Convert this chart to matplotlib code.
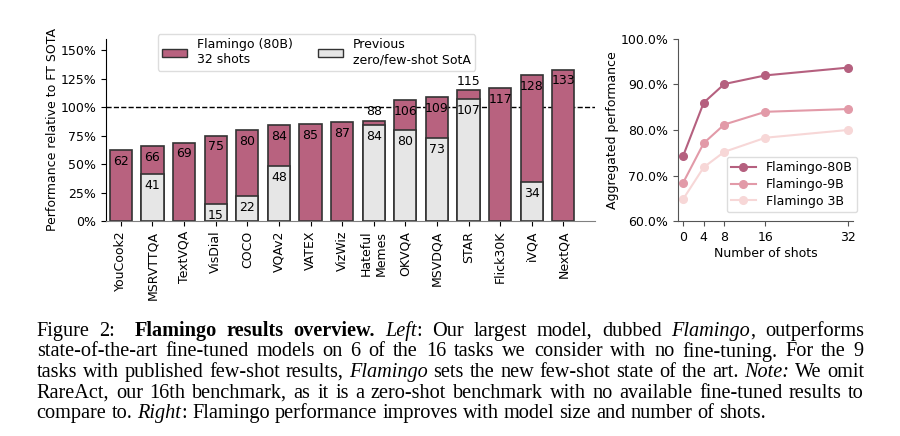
import numpy as np
import matplotlib
matplotlib.use("Agg")
import matplotlib.pyplot as plt
from matplotlib.patches import Patch
from matplotlib.ticker import FuncFormatter

# left panel data
tasks = ["YouCook2", "MSRVTTQA", "TextVQA", "VisDial", "COCO", "VQAv2", "VATEX",
         "VizWiz", "Hateful\nMemes", "OKVQA", "MSVDQA", "STAR", "Flick30K", "iVQA", "NextQA"]
flamingo = [62, 66, 69, 75, 80, 84, 85, 87, 88, 106, 109, 115, 117, 128, 133]
previous = [None, 41, None, 15, 22, 48, None, None, 84, 80, 73, 107, None, 34, None]

# right panel data
shots = [0, 4, 8, 16, 32]
perf_80b = [74.3, 86.0, 90.1, 92.0, 93.7]
perf_9b = [68.4, 77.1, 81.2, 84.0, 84.6]
perf_3b = [64.8, 71.8, 75.2, 78.3, 80.0]

caption = [
    [("Figure 2:  ", "r"), ("Flamingo results overview.", "b"), (" ", "r"), ("Left", "i"),
     (": Our largest model, dubbed ", "r"), ("Flamingo", "i"), (", outperforms", "r")],
    [("state-of-the-art fine-tuned models on 6 of the 16 tasks we consider with no fine-tuning. For the 9", "r")],
    [("tasks with published few-shot results, ", "r"), ("Flamingo", "i"),
     (" sets the new few-shot state of the art. ", "r"), ("Note:", "i"), (" We omit", "r")],
    [("RareAct, our 16th benchmark, as it is a zero-shot benchmark with no available fine-tuned results to", "r")],
    [("compare to. ", "r"), ("Right", "i"), (": Flamingo performance improves with model size and number of shots.", "r")],
]

pink = "#b8627f"
grey = "#e6e6e6"
edge = "#333333"
line_cols = ["#b5607f", "#e29aa8", "#f7d7d7"]
fs = 9

plt.rcParams["font.family"] = "DejaVu Sans"
fig = plt.figure(figsize=(9, 4.36), dpi=100)

# ---- left: bars ----
ax = fig.add_axes([0.1178, 0.4931, 0.5433, 0.4175])
x = np.arange(len(tasks))
ax.axhline(100, color="black", ls="--", lw=1, zorder=1)
ax.bar(x, flamingo, width=0.7, color=pink, edgecolor=edge, lw=1.2, zorder=2)
px = [i for i in x if previous[i] is not None]
pv = [previous[i] for i in px]
ax.bar(px, pv, width=0.7, color=grey, edgecolor=edge, lw=1.2, zorder=3)

for i in x:
    f = flamingo[i]
    p = previous[i]
    if p is not None and f - p < 10:
        ax.annotate(str(f), (i, f), xytext=(0, 6.5), textcoords="offset points",
                    ha="center", va="center", fontsize=fs, zorder=5)
    else:
        ax.annotate(str(f), (i, f), xytext=(0, -8), textcoords="offset points",
                    ha="center", va="center", fontsize=fs, zorder=5)
    if p is not None:
        ax.annotate(str(p), (i, p), xytext=(0, -8), textcoords="offset points",
                    ha="center", va="center", fontsize=fs, zorder=5)

ax.set_xlim(-0.47, 15)
ax.set_ylim(0, 160)
ax.set_yticks([0, 25, 50, 75, 100, 125, 150])
ax.yaxis.set_major_formatter(FuncFormatter(lambda v, _: "%d%%" % v))
ax.set_xticks(x)
ax.set_xticklabels(tasks, rotation=90, fontsize=fs, multialignment="center")
ax.tick_params(axis="y", labelsize=fs)
ax.set_ylabel("Performance relative to FT SOTA", fontsize=fs, labelpad=1)
for s in ["top", "right"]:
    ax.spines[s].set_visible(False)
ax.spines["bottom"].set_color("#808080")
ax.spines["bottom"].set_zorder(4)
ax.legend(handles=[Patch(facecolor=pink, edgecolor=edge, label="Flamingo (80B)\n32 shots"),
                   Patch(facecolor=grey, edgecolor=edge, label="Previous\nzero/few-shot SotA")],
          ncol=2, loc="upper center", bbox_to_anchor=(0.43, 1.027), borderaxespad=0,
          fontsize=fs, framealpha=1, edgecolor="#dddddd", borderpad=0.35, labelspacing=0.3)

# ---- right: lines ----
ax2 = fig.add_axes([0.7533, 0.4931, 0.1944, 0.4175])
ax2.plot(shots, perf_80b, "-o", color=line_cols[0], ms=5.5, lw=1.5, label="Flamingo-80B")
ax2.plot(shots, perf_9b, "-o", color=line_cols[1], ms=5.5, lw=1.5, label="Flamingo-9B")
ax2.plot(shots, perf_3b, "-o", color=line_cols[2], ms=5.5, lw=1.5, label="Flamingo 3B")
ax2.set_xlim(-1, 33)
ax2.set_ylim(60, 100)
ax2.set_xticks(shots)
ax2.set_yticks([60, 70, 80, 90, 100])
ax2.yaxis.set_major_formatter(FuncFormatter(lambda v, _: "%.1f%%" % v))
ax2.tick_params(labelsize=fs, color="#555555")
ax2.set_xlabel("Number of shots", fontsize=fs, labelpad=2)
ax2.set_ylabel("Aggregated performance", fontsize=fs, labelpad=1)
for s in ["top", "right"]:
    ax2.spines[s].set_visible(False)
for s in ["left", "bottom"]:
    ax2.spines[s].set_color("#555555")
ax2.legend(loc="lower right", bbox_to_anchor=(1.06, 0.014), fontsize=fs,
           framealpha=1, edgecolor="#dddddd", borderpad=0.35, labelspacing=0.3)

# ---- caption, justified ----
cap_size = 14.6
W, H = fig.get_size_inches() * fig.dpi
x0, x1 = 36.7, 864.0
base0, step = 336.0, 20.5
renderer = fig.canvas.get_renderer()


def style_kw(st):
    return dict(fontsize=cap_size, family="Liberation Serif",
                fontweight="bold" if st == "b" else "normal",
                fontstyle="italic" if st == "i" else "normal")


for li, segs in enumerate(caption):
    words = [[]]
    for txt, st in segs:
        pieces = txt.split(" ")
        for k, p in enumerate(pieces):
            if k > 0:
                words.append([])
            if p:
                words[-1].append((p, st))
    y = 1 - (base0 + li * step) / H
    arts = []
    widths = []
    for w in words:
        parts = []
        tot = 0
        for p, st in w:
            t = fig.text(0, y, p, va="baseline", ha="left", **style_kw(st))
            bw = t.get_window_extent(renderer).width
            parts.append((t, bw))
            tot += bw
        arts.append(parts)
        widths.append(tot)
    if li == len(caption) - 1:
        gap = 0.25 * cap_size * fig.dpi / 72
    else:
        gap = (x1 - x0 - sum(widths)) / (len(words) - 1)
    cx = x0
    for parts, wd in zip(arts, widths):
        px_ = cx
        for t, bw in parts:
            t.set_x(px_ / W)
            px_ += bw
        cx += wd + gap

fig.savefig("out.png", dpi=100)
